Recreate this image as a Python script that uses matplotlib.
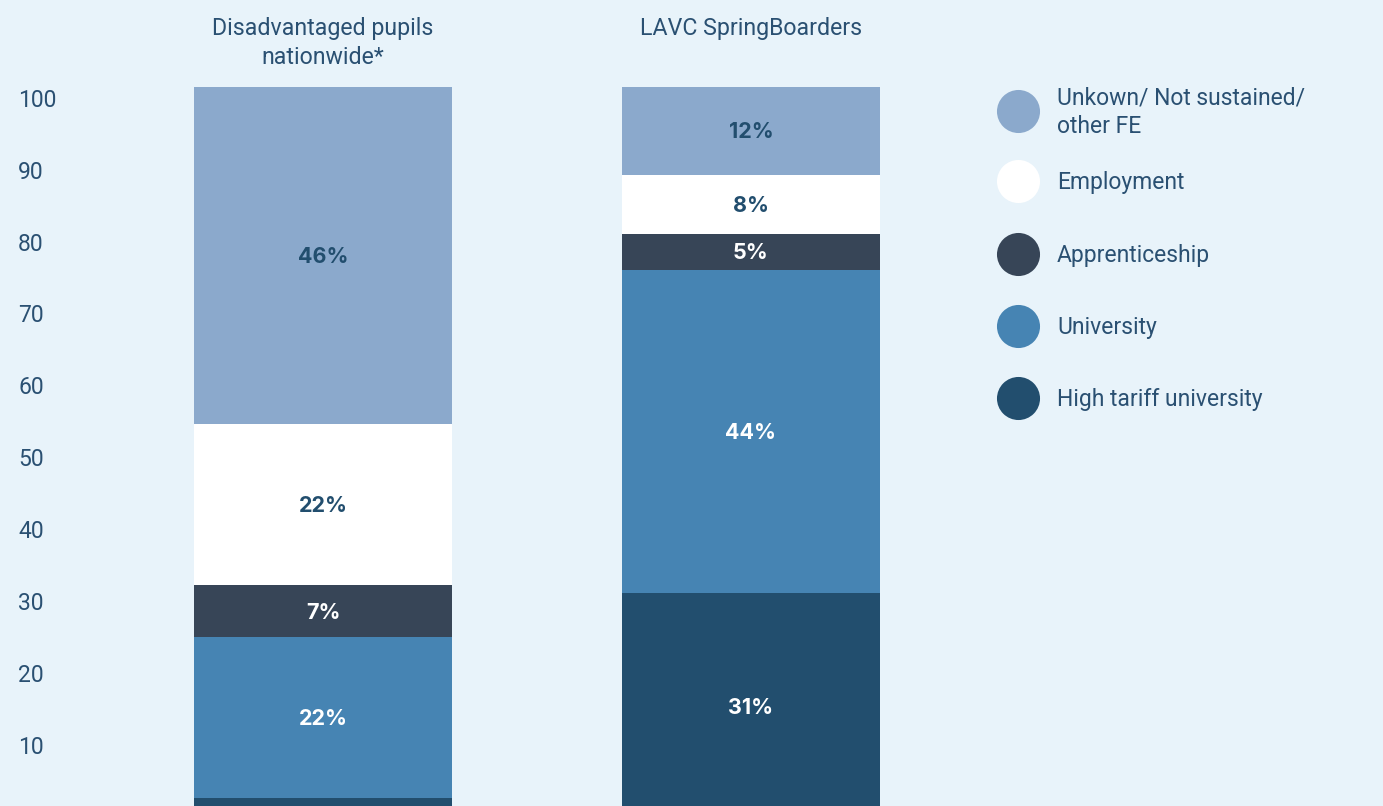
import matplotlib.pyplot as plt
import numpy as np
from matplotlib.transforms import blended_transform_factory

# dados
grupos = ['Disadvantaged pupils\nnationwide*', 'LAVC SpringBoarders']
categorias = ['High tariff university', 'University', 'Apprenticeship',
              'Employment', 'Unkown/ Not sustained/\nother FE']
high_tariff = [3, 31]
university = [22, 44]
apprenticeship = [7, 5]
employment = [22, 8]
unknown = [46, 12]
valores = [high_tariff, university, apprenticeship, employment, unknown]
y_ticks = [10, 20, 30, 40, 50, 60, 70, 80, 90, 100]

cores = ['#224E6E', '#4684B3', '#374557', '#FFFFFF', '#8BA9CC']
cor_txt = ['white', 'white', 'white', '#224E6E', '#224E6E']
fundo = '#E8F3FA'
azul_txt = '#2A5072'

W, H = 1383, 806
plt.rcParams['font.family'] = ['Roboto', 'DejaVu Sans']

fig = plt.figure(figsize=(W / 100, H / 100), dpi=100, facecolor=fundo)
ax = fig.add_axes([0, 0, 1, 1])
ax.set_facecolor(fundo)
ax.set_xlim(-0.755, 2.477)
ax.set_ylim(1.91, 111.87)
ax.axis('off')

x = np.arange(len(grupos))
base = np.zeros(len(grupos))
for k in range(len(categorias)):
    v = np.array(valores[k])
    ax.bar(x, v, 0.603, bottom=base, color=cores[k], linewidth=0)
    for i in range(len(grupos)):
        if v[i] >= 5:
            ax.text(x[i], base[i] + v[i] / 2 - 0.2, '%d%%' % v[i], ha='center', va='center',
                    fontsize=15.5, fontweight='bold', color=cor_txt[k],
                    family=['Inter', 'DejaVu Sans'])
    base = base + v

# titulos das colunas
for i in range(len(grupos)):
    ax.text(x[i], 1 - 43 / H if '\n' in grupos[i] else 1 - 29 / H, grupos[i],
            ha='center', va='center', fontsize=16.7, color=azul_txt, linespacing=1.3,
            transform=blended_transform_factory(ax.transData, fig.transFigure))

# eixo y (os rotulos do original tem espacamento levemente diferente das barras)
tr = blended_transform_factory(fig.transFigure, ax.transData)
for t in y_ticks:
    ax.text(18 / W, 0.27 + 0.982 * t - 0.25, str(t), ha='left', va='center',
            fontsize=16.5, color=azul_txt, transform=tr)

# legenda feita a mao
leg_y = [398, 326, 254, 181, 111]
for k in range(len(categorias)):
    ax.scatter([1018 / W], [1 - leg_y[k] / H], s=43 ** 2 * 0.52, color=cores[k],
               linewidths=0, transform=fig.transFigure, clip_on=False)
    ax.text(1057 / W, 1 - (leg_y[k] + 1.5) / H, categorias[k], ha='left', va='center',
            fontsize=16.5, color=azul_txt, linespacing=1.32, transform=fig.transFigure)

plt.savefig('out.png', dpi=100, facecolor=fundo)
